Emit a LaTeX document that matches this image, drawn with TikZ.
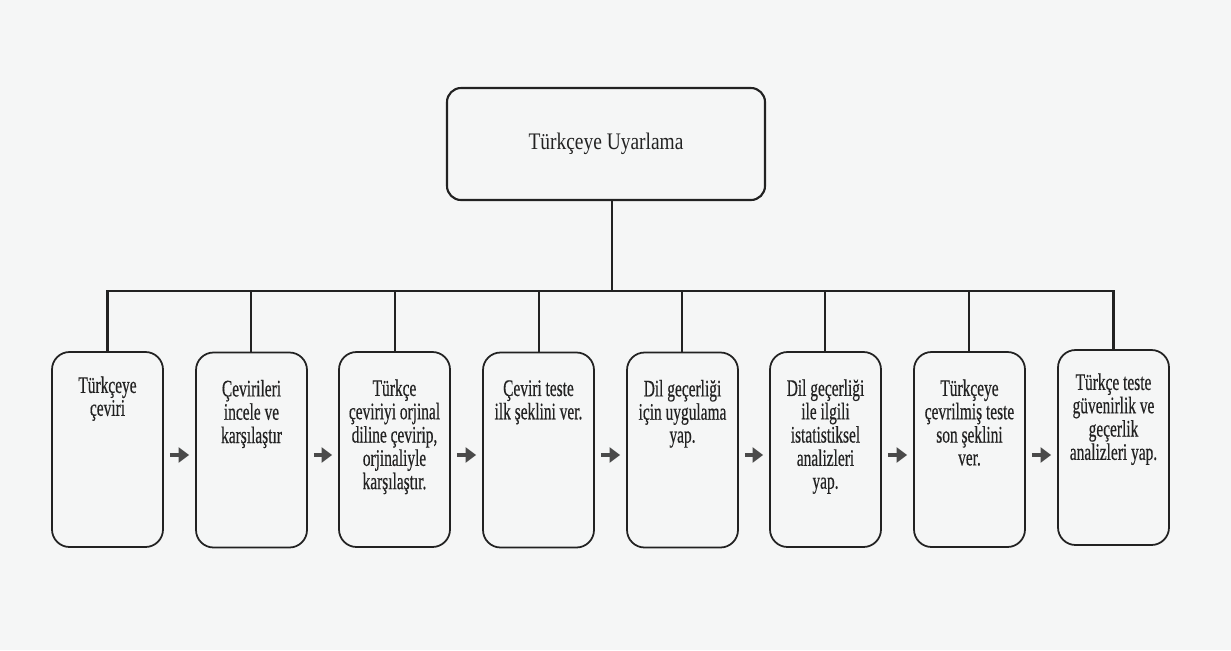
\documentclass[tikz,border=0pt]{standalone}
\usepackage{fontspec}
\setmainfont{Liberation Serif}
\newfontfamily\stepserif[FakeBold=0.5]{Liberation Serif}
\newfontfamily\topserif[FakeStretch=0.82]{Liberation Serif}
\newcommand\steplines[1]{\scalebox{0.65}[1]{\stepserif\fontsize{13.5}{13}\selectfont\begin{tabular}{@{}c@{}}#1\end{tabular}}}
\usetikzlibrary{arrows.meta}
\definecolor{bg}{HTML}{F5F6F6}
\definecolor{ink}{HTML}{222222}
\definecolor{arr}{HTML}{4A4A4A}
\tikzset{
  topbox/.style={draw=ink, line width=1.2pt, rounded corners=8pt, minimum width=318*0.02cm, minimum height=112*0.02cm, font=\topserif\fontsize{13.5}{15}\selectfont, text=ink},
  stepbox/.style={draw=ink, line width=1pt, rounded corners=10pt, minimum width=111*0.02cm, minimum height=195*0.02cm},
  steptext/.style={anchor=north, inner sep=0pt, text=ink},
  link/.style={draw=ink, line width=1.2pt},
  flow/.style={draw=arr, line width=2.3pt, -{Triangle[length=6pt,width=8.5pt]}, shorten <=6*0.02cm, shorten >=6*0.02cm}
}
\begin{document}
\begin{tikzpicture}[x=0.02cm,y=-0.02cm]
\fill[bg] (0,0) rectangle (1231,650);
\useasboundingbox (0,0) rectangle (1231,650);
\node[topbox] (top) at (606,144) {Türkçeye Uyarlama};
\node[stepbox] (b1) at (107.5,449.5) {};
\node[stepbox] (b2) at (251.5,450) {};
\node[stepbox] (b3) at (394.5,449.5) {};
\node[stepbox] (b4) at (538.5,450) {};
\node[stepbox] (b5) at (682.5,450) {};
\node[stepbox] (b6) at (825.5,449.5) {};
\node[stepbox] (b7) at (969.5,449.5) {};
\node[stepbox] (b8) at (1113.5,447.5) {};
\node[steptext] (t1) at ([yshift=-0.5cm]b1.north) {\steplines{Türkçeye\\çeviri}};
\node[steptext] (t2) at ([yshift=-0.56cm]b2.north) {\steplines{Çevirileri\\incele ve\\karşılaştır}};
\node[steptext] (t3) at ([yshift=-0.56cm]b3.north) {\steplines{Türkçe\\çeviriyi orjinal\\diline çevirip,\\orjinaliyle\\karşılaştır.}};
\node[steptext] (t4) at ([yshift=-0.56cm]b4.north) {\steplines{Çeviri teste\\ilk şeklini ver.}};
\node[steptext] (t5) at ([yshift=-0.56cm]b5.north) {\steplines{Dil geçerliği\\için uygulama\\yap.}};
\node[steptext] (t6) at ([yshift=-0.56cm]b6.north) {\steplines{Dil geçerliği\\ile ilgili\\istatistiksel\\analizleri\\yap.}};
\node[steptext] (t7) at ([yshift=-0.56cm]b7.north) {\steplines{Türkçeye\\çevrilmiş teste\\son şeklini\\ver.}};
\node[steptext] (t8) at ([yshift=-0.48cm]b8.north) {\steplines{Türkçe teste\\güvenirlik ve\\geçerlik\\analizleri yap.}};
\coordinate (hc) at (612,291);
\coordinate (h1) at (107.5,291);
\coordinate (h2) at (251,291);
\coordinate (h3) at (395,291);
\coordinate (h4) at (539,291);
\coordinate (h5) at (682,291);
\coordinate (h6) at (825,291);
\coordinate (h7) at (969,291);
\coordinate (h8) at (1113.5,291);
\draw[link] (top.south -| hc) -- (hc);
\draw[link, line cap=rect] (h1) -- (h8);
\foreach \i in {1,...,8} { \draw[link] (h\i) -- (h\i |- b\i.north); }
\draw[flow] (b1.east |- 0,455) -- (b2.west |- 0,455);
\draw[flow] (b2.east |- 0,455) -- (b3.west |- 0,455);
\draw[flow] (b3.east |- 0,455) -- (b4.west |- 0,455);
\draw[flow] (b4.east |- 0,455) -- (b5.west |- 0,455);
\draw[flow] (b5.east |- 0,455) -- (b6.west |- 0,455);
\draw[flow] (b6.east |- 0,455) -- (b7.west |- 0,455);
\draw[flow] (b7.east |- 0,455) -- (b8.west |- 0,455);
\end{tikzpicture}
\end{document}
